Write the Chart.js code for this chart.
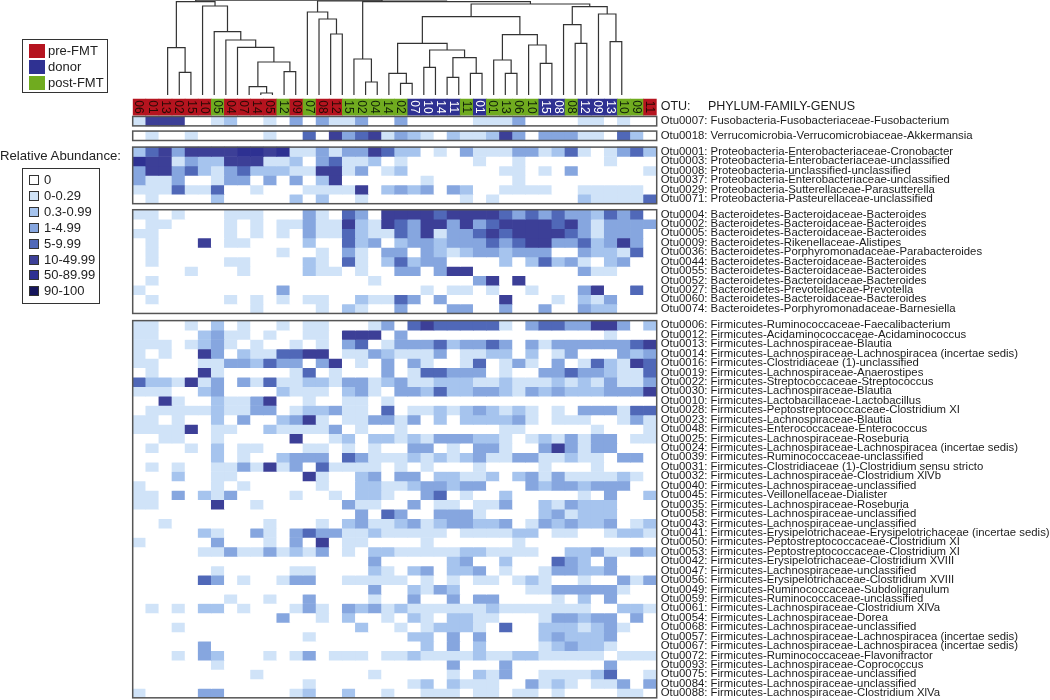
<!DOCTYPE html>
<html>
<head>
<meta charset="utf-8">
<title>OTU heatmap</title>
<script src="https://cdn.jsdelivr.net/npm/chart.js@4"></script>
<style>
  html, body { margin: 0; padding: 0; background: #fff; font-family: "Liberation Sans", Arial, sans-serif; color: #222; }
  #wrap { position: relative; width: 1050px; height: 700px; overflow: hidden; }
  #wrap canvas { position: absolute; left: 0; top: 0; }
  .box { position: absolute; box-sizing: border-box; border: 1.5px solid #333; background: #fff; }
  .item { position: absolute; font-size: 13px; line-height: 16px; white-space: nowrap; }
  .swatch { position: absolute; box-sizing: border-box; }
  #abundTitle { position: absolute; left: 0; top: 148px; font-size: 13.2px; line-height: 16px; white-space: nowrap; }
</style>
</head>
<body>
<div id="wrap">
  <canvas id="chart" width="1050" height="700"></canvas>
  <div class="box" id="groupBox" style="left:22px;top:39px;width:86px;height:54px"></div>
  <div id="abundTitle">Relative Abundance:</div>
  <div class="box" id="levelBox" style="left:22px;top:168px;width:78px;height:136px"></div>
</div>
<script>
//-------------------
// DATA
//-------------------
var sampleIds = ["06","01","13","02","15","10","05","04","07","14","05","12","09","07","08","12","15","02","04","14",
                 "02","07","10","14","11","11","01","01","13","06","10","15","08","08","12","09","13","10","09","11"];
// 0 = pre-FMT, 1 = donor, 2 = post-FMT
var sampleGroups = [0,0,0,0,0,0,2,0,0,0, 0,2,0,2,0,0,2,2,2,2, 2,1,1,1,1,2,1,2,2,2, 2,1,1,2,1,1,1,2,2,0];

var groupNames = ["pre-FMT", "donor", "post-FMT"];
var groupColors = ["#b5141f", "#2f3192", "#70ab1f"];
var groupTextColors = ["#2a0a05", "#ffffff", "#10200a"];

var levelNames = ["0", "0-0.29", "0.3-0.99", "1-4.99", "5-9.99", "10-49.99", "50-89.99", "90-100"];
var levelColors = ["#ffffff", "#d0e3f8", "#a6c4ee", "#86a6df", "#5068b8", "#3c3f97", "#2e3192", "#16165c"];

var otuLabels = [
  ["Otu0007: Fusobacteria-Fusobacteriaceae-Fusobacterium"],
  ["Otu0018: Verrucomicrobia-Verrucomicrobiaceae-Akkermansia"],
  ["Otu0001: Proteobacteria-Enterobacteriaceae-Cronobacter",
   "Otu0003: Proteobacteria-Enterobacteriaceae-unclassified",
   "Otu0008: Proteobacteria-unclassified-unclassified",
   "Otu0037: Proteobacteria-Enterobacteriaceae-unclassified",
   "Otu0029: Proteobacteria-Sutterellaceae-Parasutterella",
   "Otu0071: Proteobacteria-Pasteurellaceae-unclassified"],
  ["Otu0004: Bacteroidetes-Bacteroidaceae-Bacteroides",
   "Otu0002: Bacteroidetes-Bacteroidaceae-Bacteroides",
   "Otu0005: Bacteroidetes-Bacteroidaceae-Bacteroides",
   "Otu0009: Bacteroidetes-Rikenellaceae-Alistipes",
   "Otu0036: Bacteroidetes-Porphyromonadaceae-Parabacteroides",
   "Otu0044: Bacteroidetes-Bacteroidaceae-Bacteroides",
   "Otu0055: Bacteroidetes-Bacteroidaceae-Bacteroides",
   "Otu0052: Bacteroidetes-Bacteroidaceae-Bacteroides",
   "Otu0027: Bacteroidetes-Prevotellaceae-Prevotella",
   "Otu0060: Bacteroidetes-Bacteroidaceae-Bacteroides",
   "Otu0074: Bacteroidetes-Porphyromonadaceae-Barnesiella"],
  ["Otu0006: Firmicutes-Ruminococcaceae-Faecalibacterium",
   "Otu0012: Firmicutes-Acidaminococcaceae-Acidaminococcus",
   "Otu0013: Firmicutes-Lachnospiraceae-Blautia",
   "Otu0014: Firmicutes-Lachnospiraceae-Lachnospiracea (incertae sedis)",
   "Otu0016: Firmicutes-Clostridiaceae (1)-unclassified",
   "Otu0019: Firmicutes-Lachnospiraceae-Anaerostipes",
   "Otu0022: Firmicutes-Streptococcaceae-Streptococcus",
   "Otu0030: Firmicutes-Lachnospiraceae-Blautia",
   "Otu0010: Firmicutes-Lactobacillaceae-Lactobacillus",
   "Otu0028: Firmicutes-Peptostreptococcaceae-Clostridium XI",
   "Otu0023: Firmicutes-Lachnospiraceae-Blautia",
   "Otu0048: Firmicutes-Enterococcaceae-Enterococcus",
   "Otu0025: Firmicutes-Lachnospiraceae-Roseburia",
   "Otu0024: Firmicutes-Lachnospiraceae-Lachnospiracea (incertae sedis)",
   "Otu0039: Firmicutes-Ruminococcaceae-unclassified",
   "Otu0031: Firmicutes-Clostridiaceae (1)-Clostridium sensu stricto",
   "Otu0032: Firmicutes-Lachnospiraceae-Clostridium XlVb",
   "Otu0040: Firmicutes-Lachnospiraceae-unclassified",
   "Otu0045: Firmicutes-Veillonellaceae-Dialister",
   "Otu0035: Firmicutes-Lachnospiraceae-Roseburia",
   "Otu0058: Firmicutes-Lachnospiraceae-unclassified",
   "Otu0043: Firmicutes-Lachnospiraceae-unclassified",
   "Otu0041: Firmicutes-Erysipelotrichaceae-Erysipelotrichaceae (incertae sedis)",
   "Otu0050: Firmicutes-Peptostreptococcaceae-Clostridium XI",
   "Otu0053: Firmicutes-Peptostreptococcaceae-Clostridium XI",
   "Otu0042: Firmicutes-Erysipelotrichaceae-Clostridium XVIII",
   "Otu0047: Firmicutes-Lachnospiraceae-unclassified",
   "Otu0056: Firmicutes-Erysipelotrichaceae-Clostridium XVIII",
   "Otu0049: Firmicutes-Ruminococcaceae-Subdoligranulum",
   "Otu0059: Firmicutes-Ruminococcaceae-unclassified",
   "Otu0061: Firmicutes-Lachnospiraceae-Clostridium XlVa",
   "Otu0054: Firmicutes-Lachnospiraceae-Dorea",
   "Otu0068: Firmicutes-Lachnospiraceae-unclassified",
   "Otu0057: Firmicutes-Lachnospiraceae-Lachnospiracea (incertae sedis)",
   "Otu0067: Firmicutes-Lachnospiraceae-Lachnospiracea (incertae sedis)",
   "Otu0072: Firmicutes-Ruminococcaceae-Flavonifractor",
   "Otu0093: Firmicutes-Lachnospiraceae-Coprococcus",
   "Otu0075: Firmicutes-Lachnospiraceae-unclassified",
   "Otu0084: Firmicutes-Lachnospiraceae-unclassified",
   "Otu0088: Firmicutes-Lachnospiraceae-Clostridium XlVa"]
];
var headerLabel = "OTU:     PHYLUM-FAMILY-GENUS";

// abundance class (index into levelNames) per OTU, one value per sample
var fusoLevels = [
  [1,5,5,5,0,0,1,2,0,0, 1,0,3,0,3,1,1,3,0,0, 3,0,0,0,0,0,1,1,1,3, 0,0,0,0,1,1,0,1,0,0]
];
var verruLevels = [
  [0,1,0,0,1,0,0,0,0,0, 1,0,0,4,0,5,3,4,5,1, 3,2,1,0,2,1,1,2,5,3, 0,3,3,3,1,1,0,4,2,0]
];
var proteoLevels = [
  [2,4,5,3,5,5,5,5,6,6, 5,6,1,1,3,1,3,3,5,4, 2,2,0,1,0,3,1,1,1,3, 3,1,2,4,1,0,1,3,4,2],
  [6,5,5,1,3,2,2,5,5,5, 1,1,2,0,3,4,1,1,2,0, 1,0,0,0,0,0,1,0,0,1, 0,0,0,0,0,0,1,0,0,0],
  [3,5,5,3,4,2,1,3,4,2, 2,2,1,1,5,5,1,3,0,1, 2,0,0,0,0,0,0,0,1,1, 0,1,0,3,0,0,0,0,0,1],
  [3,1,1,3,0,0,1,3,3,0, 3,0,3,0,2,5,0,0,0,0, 0,0,1,0,0,0,0,0,0,1, 0,0,0,0,0,0,0,0,0,0],
  [1,1,1,4,1,1,4,0,0,1, 0,0,0,1,1,1,1,5,0,2, 3,2,3,0,3,2,0,0,1,1, 1,1,0,0,1,1,1,1,1,0],
  [0,1,0,0,0,0,2,0,0,0, 0,0,2,0,2,0,0,1,0,0, 0,0,0,0,0,1,0,1,0,0, 0,0,0,0,2,1,1,1,1,4]
];
var bacteroLevels = [
  [1,1,0,1,0,0,0,1,1,1, 0,0,0,3,1,0,4,3,0,5, 5,5,5,4,5,5,5,5,4,3, 4,3,4,3,3,2,4,3,4,0],
  [0,1,1,0,0,0,0,1,0,1, 0,1,1,3,1,1,5,2,1,5, 4,3,5,5,3,5,3,4,5,5, 5,5,4,5,3,1,3,3,3,3],
  [1,1,0,0,0,0,0,1,0,1, 0,1,0,3,1,1,4,2,1,1, 4,3,5,1,3,3,4,5,4,5, 5,5,5,4,3,1,3,3,3,0],
  [0,1,0,0,0,5,0,1,1,0, 0,0,0,2,0,0,4,2,3,0, 2,3,3,2,3,3,3,4,3,4, 5,5,3,3,4,2,3,5,3,0],
  [0,1,0,0,0,0,0,0,0,0, 0,1,0,0,1,0,3,1,0,3, 3,0,3,2,1,2,3,3,2,3, 3,3,0,0,3,2,2,1,4,0],
  [0,1,0,0,0,0,0,1,1,0, 0,0,0,2,1,0,4,1,0,2, 4,2,3,3,0,0,0,0,2,0, 2,4,2,3,1,0,2,3,0,0],
  [0,0,0,0,1,0,0,0,1,0, 0,0,0,2,1,1,0,1,0,0, 3,3,0,3,5,5,0,0,0,0, 0,0,0,0,3,1,1,0,0,0],
  [0,1,0,0,0,0,0,0,0,0, 0,0,0,0,0,0,0,0,1,0, 0,0,0,0,0,0,3,5,0,5, 0,0,0,0,0,0,0,0,0,0],
  [1,0,0,0,0,0,0,0,0,0, 0,3,0,0,0,0,0,0,0,0, 0,0,1,0,1,1,0,1,0,0, 1,0,0,0,3,5,0,0,4,0],
  [0,1,0,0,0,0,0,1,0,1, 0,1,0,1,1,0,0,2,1,1, 4,3,0,3,0,0,0,0,5,0, 0,0,1,0,2,1,3,0,0,0],
  [0,0,0,0,0,0,0,0,0,1, 0,0,0,0,1,0,2,1,0,0, 3,0,0,0,3,3,0,0,3,0, 0,3,0,0,3,2,2,0,0,0]
];
var firmiLevels = [
  [1,1,0,0,1,0,2,0,1,0, 0,1,0,1,1,0,0,0,1,3, 0,4,5,4,4,4,4,4,1,0, 3,4,4,3,3,5,5,3,0,2],
  [1,1,0,0,0,2,3,1,1,0, 1,0,0,1,1,0,5,5,5,0, 3,0,0,0,0,0,0,0,0,0, 0,0,0,0,0,0,1,0,0,0],
  [1,1,1,0,1,2,3,1,0,1, 0,0,1,0,1,0,3,4,0,1, 3,3,3,4,2,3,3,4,3,0, 3,1,3,3,3,3,3,3,4,5],
  [1,0,1,0,0,5,3,0,2,1, 1,4,4,5,5,0,1,1,3,2, 1,1,1,3,0,1,1,2,2,0, 2,0,1,3,0,0,0,3,2,3],
  [1,1,0,0,0,1,1,3,3,2, 4,3,3,0,3,5,0,1,0,3, 0,3,1,0,0,1,4,0,1,3, 1,0,3,0,1,4,2,1,5,4],
  [0,1,0,0,0,5,1,0,0,0, 0,0,1,4,0,1,0,0,0,3, 0,1,4,4,3,3,3,0,1,0, 0,3,3,4,3,3,2,1,1,4],
  [4,2,2,1,5,1,3,0,3,1, 4,1,1,2,2,1,3,3,1,2, 3,1,1,2,2,2,1,1,2,1, 1,1,2,1,2,1,3,1,1,3],
  [1,1,1,0,0,2,3,0,0,0, 0,2,1,1,1,0,2,3,1,0, 3,3,2,4,2,2,3,3,2,1, 3,2,3,2,2,2,3,3,3,5],
  [0,0,5,1,0,0,2,1,1,3, 5,0,0,1,0,0,1,1,0,1, 0,0,0,0,0,0,0,0,0,0, 0,0,0,0,0,0,0,0,0,0],
  [0,1,1,1,1,1,2,1,1,3, 3,0,1,2,2,3,1,1,0,4, 0,1,1,2,1,2,3,2,1,2, 1,0,1,0,3,3,3,1,4,4],
  [1,1,0,1,0,0,2,0,3,0, 0,2,3,5,1,0,1,1,3,3, 1,3,0,2,0,2,2,2,2,3, 1,0,1,1,1,0,0,1,3,1],
  [1,1,1,1,5,0,1,1,0,0, 2,1,1,1,1,3,0,1,0,0, 1,0,0,0,0,0,0,0,1,1, 0,0,0,0,0,1,0,0,0,1],
  [0,0,1,1,0,0,1,0,0,0, 0,0,5,0,0,1,2,0,2,2, 1,2,1,3,3,3,2,2,1,0, 1,2,1,3,1,3,3,0,1,1],
  [0,1,0,0,1,0,2,0,1,1, 0,0,0,1,1,0,1,0,1,0, 0,3,3,0,1,0,3,3,1,0, 0,3,5,3,1,3,3,0,0,0],
  [0,0,0,0,0,0,2,0,1,0, 0,2,3,3,3,0,4,3,1,1, 1,2,1,2,1,2,3,1,1,3, 3,1,1,2,1,1,0,3,3,0],
  [0,1,0,1,0,0,1,1,3,1, 5,1,3,0,4,1,1,1,1,0, 1,0,1,0,0,0,1,0,0,0, 0,1,0,0,0,1,0,0,0,0],
  [0,0,0,2,0,0,1,1,0,0, 0,0,0,5,1,0,0,2,3,0, 3,3,0,2,2,1,1,2,0,2, 3,1,3,1,1,1,1,2,1,0],
  [1,0,0,0,0,0,1,0,1,0, 0,0,0,0,1,0,0,2,2,1, 1,2,3,3,2,3,3,0,0,0, 3,2,3,3,2,3,3,3,0,0],
  [1,1,0,3,0,2,1,3,0,0, 0,0,1,0,0,1,0,2,2,1, 0,0,3,4,0,1,0,0,2,0, 0,0,0,0,1,0,3,0,0,2],
  [1,1,0,0,0,0,5,0,0,1, 0,0,0,0,0,0,3,1,1,0, 0,3,0,1,1,0,1,1,3,0, 0,2,1,3,2,2,2,0,0,0],
  [0,0,0,0,0,0,0,0,0,0, 0,0,0,0,0,0,0,3,0,4, 3,0,0,3,3,3,1,0,0,0, 0,2,3,1,2,2,2,0,0,0],
  [0,0,1,0,0,0,0,0,0,0, 1,0,0,0,1,0,2,3,1,1, 2,3,1,2,3,3,2,2,3,0, 1,3,2,3,2,2,3,0,1,2],
  [0,0,0,0,0,2,1,0,0,3, 1,0,3,4,3,3,1,1,2,1, 1,1,1,1,0,1,1,1,1,2, 2,0,1,1,0,0,1,2,2,1],
  [1,0,0,0,0,0,3,0,0,0, 1,0,3,0,5,0,1,1,0,0, 0,0,1,0,0,0,0,0,0,1, 0,0,0,0,0,0,0,0,0,0],
  [0,0,0,0,0,1,1,3,1,1, 3,1,2,1,3,0,1,0,2,2, 1,1,1,1,1,2,2,1,1,1, 1,0,0,2,2,3,1,1,3,2],
  [0,0,0,0,0,0,0,0,0,0, 0,0,0,0,0,0,0,0,3,0, 0,0,0,0,2,3,0,0,2,0, 0,0,4,3,2,0,3,0,0,0],
  [0,0,0,0,0,0,1,0,0,0, 0,0,1,1,0,0,0,0,2,1, 0,2,3,0,2,2,3,0,1,0, 0,1,3,3,2,2,3,0,0,0],
  [0,0,0,0,0,4,3,0,1,0, 0,1,3,3,0,0,1,1,1,1, 1,0,1,0,1,0,1,1,0,1, 2,1,0,0,1,0,0,3,1,3],
  [0,0,0,0,0,0,0,0,0,0, 0,0,0,0,0,0,0,0,3,0, 0,2,1,3,2,0,0,0,0,0, 1,1,3,3,3,3,3,1,0,0],
  [0,0,0,0,0,0,0,1,0,0, 1,0,0,3,0,0,0,0,1,0, 0,3,0,0,3,0,3,3,0,0, 0,0,1,0,2,0,3,0,0,0],
  [0,1,0,1,0,2,2,0,1,0, 0,0,1,3,1,0,3,2,3,1, 2,1,1,1,1,1,1,2,1,1, 1,1,1,1,1,0,0,2,2,1],
  [0,0,0,0,0,0,0,0,0,0, 0,3,0,0,1,0,2,0,0,1, 0,2,1,0,2,2,1,1,0,0, 0,1,3,3,2,3,3,0,3,0],
  [0,0,0,1,0,0,0,0,0,0, 0,0,0,0,0,0,0,2,0,0, 1,0,1,2,2,2,1,0,4,0, 0,2,2,2,1,2,3,1,0,0],
  [0,0,0,0,0,0,0,0,0,0, 0,0,0,1,0,0,0,0,0,0, 0,2,2,0,3,0,3,0,0,0, 0,2,3,2,2,2,3,0,0,0],
  [0,0,0,0,0,3,0,0,0,0, 0,0,0,0,0,0,0,0,0,0, 0,0,2,0,3,0,2,0,0,0, 0,1,2,3,2,2,1,0,0,0],
  [0,0,0,1,0,3,2,0,0,0, 1,0,1,3,0,1,1,1,0,1, 1,2,1,1,1,1,2,1,1,2, 2,1,1,1,1,1,0,1,1,1],
  [0,0,0,0,0,0,1,0,0,0, 0,0,0,0,0,0,0,0,0,0, 0,0,0,0,3,0,0,0,3,0, 0,0,0,0,0,0,3,0,0,0],
  [0,0,0,0,0,0,0,0,0,1, 0,0,0,0,0,0,0,0,1,0, 0,0,0,0,1,0,2,1,3,0, 0,1,1,1,1,2,4,0,0,1],
  [0,0,0,0,0,0,0,0,0,0, 0,0,0,1,0,0,0,0,0,0, 0,1,2,0,2,1,1,1,0,0, 3,1,2,1,0,1,1,3,0,3],
  [1,0,0,0,0,3,3,0,0,0, 0,0,1,2,0,0,2,0,0,1, 0,0,1,1,1,0,1,1,0,1, 1,0,1,0,0,0,0,1,1,0]
];

// dendrogram merges: [childA, childB, height]. A child below 40 is a sample,
// otherwise it is merge (child - 40) of this list.
var treeMerges = [
  [1,2,22.7],[0,40,47.3],[8,9,2],[7,42,8.3],[10,11,23.3],[43,44,33],[6,45,47.7],[5,46,55],[4,47,63.3],[3,48,89],
  [41,49,93.3],[14,15,61],[13,51,76],[12,52,83],[17,18,13],[16,54,36],[20,21,11.7],[19,56,21.7],[22,23,27.7],[24,25,17.7],
  [26,27,21.7],[59,60,37.3],[58,61,45],[57,62,51.7],[29,30,21.7],[28,64,35],[32,33,31.7],[31,66,50],[65,67,60.3],[63,68,78.3],
  [35,36,51.7],[34,70,70.3],[38,39,53.3],[37,72,81],[71,73,88.3],[69,74,91],[55,75,93.3],[53,76,94],[50,77,94.8]
];

//-------------------
// Layout of the rows
//-------------------
var heatGroups = [fusoLevels, verruLevels, proteoLevels, bacteroLevels, firmiLevels];
var plotBottom = 698;
var rowPx = 9.43;
var bandStart = 10.5, bandEnd = 12.2;
var groupStarts = [12.35, 13.9, 15.6, 22.24, 34.0];
var treeFloor = 95;

var datasets = [];
var tickValues = [(bandStart + bandEnd) / 2];
var tickLabels = [headerLabel];
var frames = [];

heatGroups.forEach(function (rows, g) {
    rows.forEach(function (levels, r) {
        var top = groupStarts[g] + r;
        tickValues.push(top + 0.5);
        tickLabels.push(otuLabels[g][r]);
        datasets.push({
            type: 'bar',
            grouped: false,
            xAxisID: 'x',
            yAxisID: 'y',
            barPercentage: 1,
            categoryPercentage: 1,
            data: levels.map(function () { return [top, top + 1]; }),
            backgroundColor: levels.map(function (l) { return levelColors[l]; })
        });
    });
    frames.push([groupStarts[g], groupStarts[g] + rows.length]);
});

// coloured sample band with the sample ids
datasets.push({
    type: 'bar',
    grouped: false,
    xAxisID: 'x',
    yAxisID: 'y',
    barPercentage: 1,
    categoryPercentage: 1,
    data: sampleIds.map(function () { return [bandStart, bandEnd]; }),
    backgroundColor: sampleGroups.map(function (g) { return groupColors[g]; })
});

// dendrogram, one line per merge
var nodePos = [];
var nodeHeight = [];
sampleIds.forEach(function (s, i) { nodePos[i] = i; nodeHeight[i] = 0; });
treeMerges.forEach(function (m, k) {
    var a = m[0], b = m[1], h = m[2];
    nodePos[40 + k] = (nodePos[a] + nodePos[b]) / 2;
    nodeHeight[40 + k] = h;
    datasets.push({
        type: 'line',
        xAxisID: 'xTree',
        yAxisID: 'yTree',
        borderColor: '#333333',
        borderWidth: 1.2,
        pointRadius: 0,
        tension: 0,
        fill: false,
        clip: false,
        data: [
            { x: nodePos[a], y: nodeHeight[a] },
            { x: nodePos[a], y: h },
            { x: nodePos[b], y: h },
            { x: nodePos[b], y: nodeHeight[b] }
        ]
    });
});

//-----------------------------
// Sample ids and group frames
//-----------------------------
var bandLabels = {
    id: 'bandLabels',
    afterDatasetsDraw: function (chart) {
        var ctx = chart.ctx;
        var yScale = chart.scales.y;
        var xScale = chart.scales.x;

        ctx.save();
        ctx.strokeStyle = '#555555';
        ctx.lineWidth = 1.5;
        frames.forEach(function (f) {
            var t = yScale.getPixelForValue(f[0]);
            var b = yScale.getPixelForValue(f[1]);
            ctx.strokeRect(xScale.left, t, xScale.right - xScale.left, b - t);
        });

        ctx.font = '12px "Liberation Sans", Arial, sans-serif';
        ctx.textAlign = 'center';
        ctx.textBaseline = 'middle';
        var mid = yScale.getPixelForValue((bandStart + bandEnd) / 2);
        sampleIds.forEach(function (id, i) {
            ctx.save();
            ctx.translate(xScale.getPixelForValue(i), mid);
            ctx.rotate(Math.PI / 2);
            ctx.fillStyle = groupTextColors[sampleGroups[i]];
            ctx.fillText(id, 0, 0.5);
            ctx.restore();
        });
        ctx.restore();
    }
};

//-------------------
// Create chart
//-------------------
var chart = new Chart(document.getElementById('chart').getContext('2d'), {
    type: 'bar',
    data: { labels: sampleIds, datasets: datasets },
    plugins: [bandLabels],
    options: {
        responsive: false,
        animation: false,
        events: [],
        layout: { padding: { left: 132.7, top: 0, right: 0, bottom: 700 - plotBottom } },
        plugins: { legend: { display: false }, tooltip: { enabled: false }, title: { display: false } },
        scales: {
            x: { type: 'category', offset: true, display: false },
            xTree: { type: 'linear', min: -0.5, max: sampleIds.length - 0.5, display: false },
            yTree: { type: 'linear', min: treeFloor - plotBottom, max: treeFloor, display: false },
            y: {
                type: 'linear',
                position: 'right',
                reverse: true,
                min: 0,
                max: plotBottom / rowPx,
                border: { display: false },
                grid: { display: false, drawTicks: false },
                afterBuildTicks: function (scale) {
                    scale.ticks = tickValues.map(function (v) { return { value: v }; });
                },
                afterFit: function (scale) {
                    scale.width = 393.3;
                    // the first and last labels must not shrink the plot
                    scale.paddingTop = 0;
                    scale.paddingBottom = 0;
                },
                ticks: {
                    autoSkip: false,
                    padding: 4,
                    color: '#1c1c1c',
                    font: function (c) {
                        return {
                            family: '"Liberation Sans", Arial, sans-serif',
                            size: c.index === 0 ? 12.5 : 11.37
                        };
                    },
                    callback: function (value, index) {
                        return tickLabels[index];
                    }
                }
            }
        }
    }
});

//-------------------
// Legend boxes
//-------------------
var wrap = document.getElementById('wrap');

function addEl(cls, css, text) {
    var el = document.createElement('div');
    el.className = cls;
    el.style.cssText = css;
    if (text) el.textContent = text;
    wrap.appendChild(el);
}

groupNames.forEach(function (name, i) {
    var y = 43 + i * 16;
    addEl('swatch', 'left:29px;top:' + (y + 1) + 'px;width:16px;height:14px;background:' + groupColors[i]);
    addEl('item', 'left:48px;top:' + y + 'px', name);
});

levelNames.forEach(function (name, i) {
    var y = 172 + i * 15.9;
    addEl('swatch', 'left:29px;top:' + (y + 3) + 'px;width:10px;height:10px;border:1px solid #333;background:' + levelColors[i]);
    addEl('item', 'left:44px;top:' + y + 'px', name);
});
</script>
</body>
</html>
